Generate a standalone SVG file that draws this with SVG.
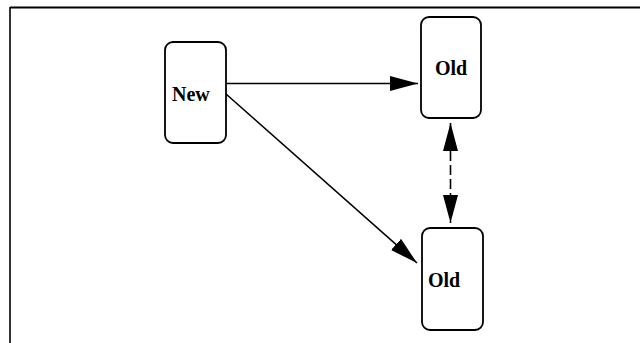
<svg xmlns="http://www.w3.org/2000/svg" width="640" height="343" viewBox="0 0 640 343">
<style>
.node{fill:#fff;stroke:#000;stroke-width:1.8}
.lbl{font-family:"Liberation Serif",serif;font-weight:bold;font-size:20px;fill:#000}
.edge{fill:none;stroke:#000;stroke-width:1.6}
.dash{stroke-dasharray:10 4}
.frame{fill:none;stroke:#000}
</style>
<defs>
<marker id="ah" markerUnits="userSpaceOnUse" markerWidth="30" markerHeight="16" refX="28" refY="7.5" orient="auto-start-reverse">
<path d="M0,0 L28,7.5 L0,15 z" fill="#000"/>
</marker>
</defs>
<rect width="640" height="343" fill="#fff"/>
<g id="frame">
<line class="frame" x1="10" y1="7.5" x2="640" y2="7.5" stroke-width="2"/>
<line class="frame" x1="10" y1="7" x2="10" y2="343" stroke-width="1.6"/>
</g>
<g id="connectors">
<line class="edge" x1="226" y1="83.5" x2="418" y2="83.5" marker-end="url(#ah)"/>
<line class="edge" x1="226" y1="94" x2="417" y2="263" marker-end="url(#ah)"/>
<line class="edge dash" x1="450.5" y1="123" x2="450.5" y2="223" marker-start="url(#ah)" marker-end="url(#ah)"/>
</g>
<g id="node-new">
<rect class="node" x="165" y="42" width="61" height="101" rx="8"/>
<text class="lbl" x="172" y="101">New</text>
</g>
<g id="node-old-top">
<rect class="node" x="421" y="17" width="60" height="101" rx="8"/>
<text class="lbl" x="435" y="75">Old</text>
</g>
<g id="node-old-bottom">
<rect class="node" x="422" y="228" width="61" height="102" rx="8"/>
<text class="lbl" x="428" y="287">Old</text>
</g>
</svg>
